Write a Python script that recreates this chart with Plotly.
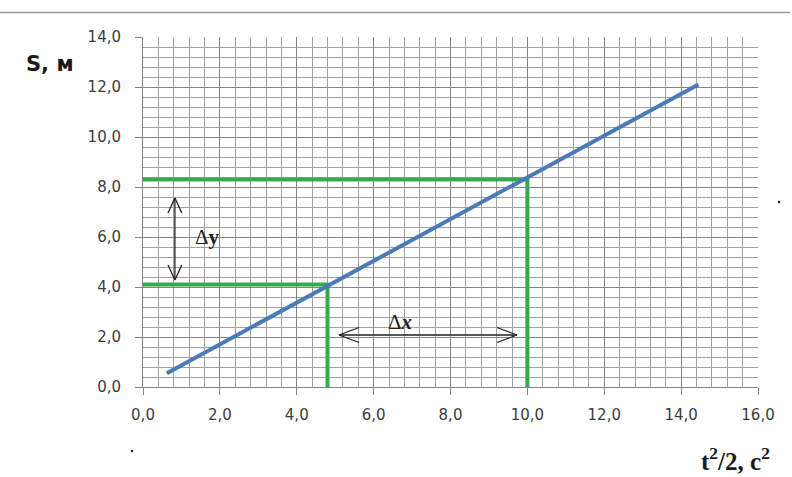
import plotly.graph_objects as go

# Measured relation: S versus t^2/2
x_vals = [0.62, 14.45]
s_vals = [0.55, 12.1]

# Reading of two points on the line
x_pts = [4.8, 10.0]
s_pts = [4.1, 8.3]

# Increment arrows
dy_x = 0.83
dy_range = [4.28, 7.56]
dx_y = 2.08
dx_range = [5.1, 9.73]

x_ticks = [0, 2, 4, 6, 8, 10, 12, 14, 16]
y_ticks = [0, 2, 4, 6, 8, 10, 12, 14]

W, H = 792, 477
L, R, T, B = 143, 34, 37, 90
pw, ph = W - L - R, H - T - B

def px_x(p):
    return (p - L) / pw

def px_y(p):
    return (H - B - p) / ph

GREEN = "#33ab4c"
BLUE = "#4a7bb7"

fig = go.Figure()

# Green guide lines
for xp, sp in zip(x_pts, s_pts):
    fig.add_trace(go.Scatter(x=[0, xp, xp], y=[sp, sp, 0], mode="lines",
                             line=dict(color=GREEN, width=4), hoverinfo="skip"))

# Main line
fig.add_trace(go.Scatter(x=x_vals, y=s_vals, mode="lines",
                         line=dict(color=BLUE, width=4), hoverinfo="skip"))

# Double arrow for Δy
hy, hw = 0.6, 0.18
a, b = dy_range
fig.add_trace(go.Scatter(
    x=[dy_x, dy_x, None, dy_x - hw, dy_x, dy_x + hw, None, dy_x - hw, dy_x, dy_x + hw],
    y=[a, b, None, b - hy, b, b - hy, None, a + hy, a, a + hy],
    mode="lines", line=dict(color="#222222", width=1.3), hoverinfo="skip"))

# Double arrow for Δx
hx, hh = 0.52, 0.3
c, d = dx_range
fig.add_trace(go.Scatter(
    x=[c, d, None, c + hx, c, c + hx, None, d - hx, d, d - hx],
    y=[dx_y, dx_y, None, dx_y + hh, dx_y, dx_y - hh, None, dx_y + hh, dx_y, dx_y - hh],
    mode="lines", line=dict(color="#222222", width=1.3), hoverinfo="skip"))

serif = "Liberation Serif, Times New Roman, serif"
fig.add_annotation(x=1.67, y=6.0, text="Δ<b>y</b>", showarrow=False,
                   font=dict(family=serif, size=21, color="#222222"))
fig.add_annotation(x=6.69, y=2.62, text="Δ<b><i>x</i></b>", showarrow=False,
                   font=dict(family=serif, size=21, color="#222222"))

# Axis titles
fig.add_annotation(xref="paper", yref="paper", x=px_x(50), y=px_y(64),
                   xanchor="center", yanchor="middle",
                   text="<b>S, м</b>", showarrow=False,
                   font=dict(family="DejaVu Sans, sans-serif", size=21, color="#1a1a1a"))
fig.add_annotation(xref="paper", yref="paper", x=px_x(735), y=px_y(459),
                   xanchor="center", yanchor="middle",
                   text="<b>t<sup>2</sup>/2, c<sup>2</sup></b>", showarrow=False,
                   font=dict(family=serif, size=25, color="#1a1a1a"))

# Top rule and small specks
fig.add_shape(type="line", xref="paper", yref="paper",
              x0=px_x(0), x1=px_x(790), y0=px_y(12.5), y1=px_y(12.5),
              line=dict(color="#9a9a9a", width=1.5))
for cx, cy in [(779, 202), (132, 451)]:
    fig.add_shape(type="rect", xref="paper", yref="paper",
                  x0=px_x(cx - 1.2), x1=px_x(cx + 1.2), y0=px_y(cy + 1.2), y1=px_y(cy - 1.2),
                  line=dict(width=0), fillcolor="#333333")

tick_font = dict(family="DejaVu Sans, Verdana, sans-serif", size=15, color="#3d3d3d")
grid_common = dict(showgrid=True, gridcolor="#858585", gridwidth=1,
                   minor=dict(dtick=0.4, showgrid=True, gridcolor="#a0a0a0", gridwidth=1),
                   zeroline=False, showline=True, linecolor="#858585", linewidth=1,
                   ticks="outside", ticklen=7, tickcolor="#858585",
                   tickformat=".1f", tickfont=tick_font)

fig.update_xaxes(range=[0, 16], tickvals=x_ticks, mirror=False,
                 ticklabelstandoff=7, **grid_common)
fig.update_yaxes(range=[0, 14], tickvals=y_ticks, ticklabelstandoff=11, **grid_common)

fig.update_layout(width=W, height=H, margin=dict(l=L, r=R, t=T, b=B),
                  plot_bgcolor="white", paper_bgcolor="white",
                  showlegend=False, separators=", ")

fig.write_html("out.html")
